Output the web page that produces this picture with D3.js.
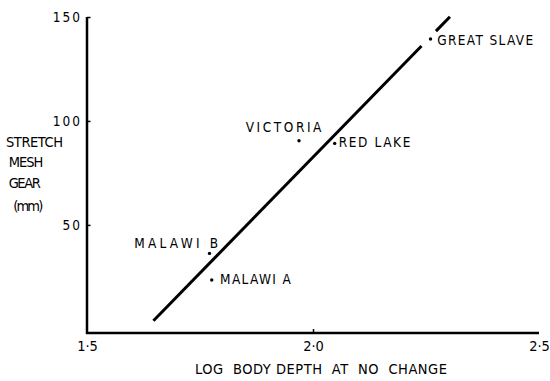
<!DOCTYPE html>
<html>
<head>
<meta charset="utf-8">
<script src="https://cdn.jsdelivr.net/npm/d3@7"></script>
<style>
  html, body { margin: 0; padding: 0; background: #fff; }
  text { font-family: "DejaVu Sans Condensed", "DejaVu Sans", sans-serif; font-stretch: condensed; fill: #000; white-space: pre; }
</style>
</head>
<body>
<svg id="chart" width="550" height="381"></svg>
<script>
// ---- data ----
const lakes = ["GREAT SLAVE", "RED LAKE", "VICTORIA", "MALAWI B", "MALAWI A"];
const logBodyDepth = [2.260, 2.048, 1.969, 1.771, 1.776];
const meshSize = [139.4, 89.2, 90.5, 36.3, 23.5];
const xTicks = [1.5, 2.0, 2.5];
const xTickLabels = ["1·5", "2·0", "2·5"];
const yTicks = [50, 100, 150];
const yTickLabels = ["50", "100", "150"];
// fitted line: start / end x, y, and the break around the GREAT SLAVE point
const fitX = [1.647, 2.303];
const fitY = [3.9, 150.1];
const fitBreakX = [2.240, 2.272];

// ---- layout (positions, not data) ----
const labelLayout = [
  { dx: 6.7, dy: 6, len: 96 },
  { dx: 4, dy: 4, len: 71.7 },
  { dx: -53.3, dy: -9, len: 75.7 },
  { dx: -75.3, dy: -5, len: 84 },
  { dx: 8.3, dy: 4.3, len: 70.7 }
];

const svg = d3.select("#chart");
const x = d3.scaleLinear().domain([1.5, 2.5]).range([87, 539]);
const y = d3.scaleLinear().domain([-2, 150]).range([333, 17]);

// axes
const xAxis = d3.axisBottom(x).tickValues(xTicks).tickSize(0).tickFormat((d, i) => xTickLabels[i]);
const gx = svg.append("g").attr("transform", `translate(0,${y(-2)})`).call(xAxis);
gx.select(".domain").attr("stroke", "#000").attr("stroke-width", 2.5).attr("d", `M${x(1.5) - 1},0H${x(2.5)}`);
gx.selectAll("text").attr("font-size", 14.5).attr("dy", null).attr("y", 17.5)
  .attr("font-family", "\"DejaVu Sans Condensed\", \"DejaVu Sans\", sans-serif");
gx.selectAll(".tick line").remove();
gx.selectAll(".tick").filter(d => d === 2.0).append("line")
  .attr("y1", 0).attr("y2", -4).attr("stroke", "#000").attr("stroke-width", 1.5);

const yAxis = d3.axisLeft(y).tickValues(yTicks).tickSize(0).tickFormat((d, i) => yTickLabels[i]);
const gy = svg.append("g").attr("transform", `translate(${x(1.5)},0)`).call(yAxis);
gy.select(".domain").attr("stroke", "#000").attr("stroke-width", 2.5).attr("d", `M0,${y(150)}V${y(-2) + 1}`);
gy.selectAll(".tick line").attr("x1", 0).attr("x2", 3.5).attr("stroke", "#000").attr("stroke-width", 1.5);
gy.selectAll("text").attr("font-size", 13.5).attr("x", -5).attr("letter-spacing", 2)
  .attr("font-family", "\"DejaVu Sans Condensed\", \"DejaVu Sans\", sans-serif");

// fitted line with break
const fitSlope = (fitY[1] - fitY[0]) / (fitX[1] - fitX[0]);
const fitAt = v => fitY[0] + (v - fitX[0]) * fitSlope;
const segs = [[fitX[0], fitBreakX[0]], [fitBreakX[1], fitX[1]]];
svg.append("g").selectAll("line").data(segs).join("line")
  .attr("x1", d => x(d[0])).attr("y1", d => y(fitAt(d[0])))
  .attr("x2", d => x(d[1])).attr("y2", d => y(fitAt(d[1])))
  .attr("stroke", "#000").attr("stroke-width", 3);

// points
const pts = lakes.map((n, i) => ({ name: n, x: logBodyDepth[i], y: meshSize[i], lay: labelLayout[i] }));
svg.append("g").selectAll("circle").data(pts).join("circle")
  .attr("cx", d => x(d.x)).attr("cy", d => y(d.y)).attr("r", 1.7).attr("fill", "#000");
svg.append("g").selectAll("text").data(pts).join("text")
  .attr("x", d => x(d.x) + d.lay.dx).attr("y", d => y(d.y) + d.lay.dy)
  .attr("font-size", 13.5).attr("textLength", d => d.lay.len).attr("lengthAdjust", "spacing")
  .text(d => d.name);

// axis titles
const yTitle = [
  { t: "STRETCH", x: 6, y: 147.3, len: 57 },
  { t: "MESH", x: 8.7, y: 166.7, len: 34.6 },
  { t: "GEAR", x: 8.7, y: 188.3, len: 32 },
  { t: "(mm)", x: 13.3, y: 210.7, len: 30 }
];
svg.append("g").selectAll("text").data(yTitle).join("text")
  .attr("x", d => d.x).attr("y", d => d.y).attr("font-size", 14.5)
  .attr("textLength", d => d.len).attr("lengthAdjust", "spacing")
  .text(d => d.t);

svg.append("text").attr("x", 195).attr("y", 374).attr("font-size", 14.5)
  .attr("textLength", 252).attr("lengthAdjust", "spacing")
  .text("LOG  BODY DEPTH  AT  NO  CHANGE");
</script>
</body>
</html>
